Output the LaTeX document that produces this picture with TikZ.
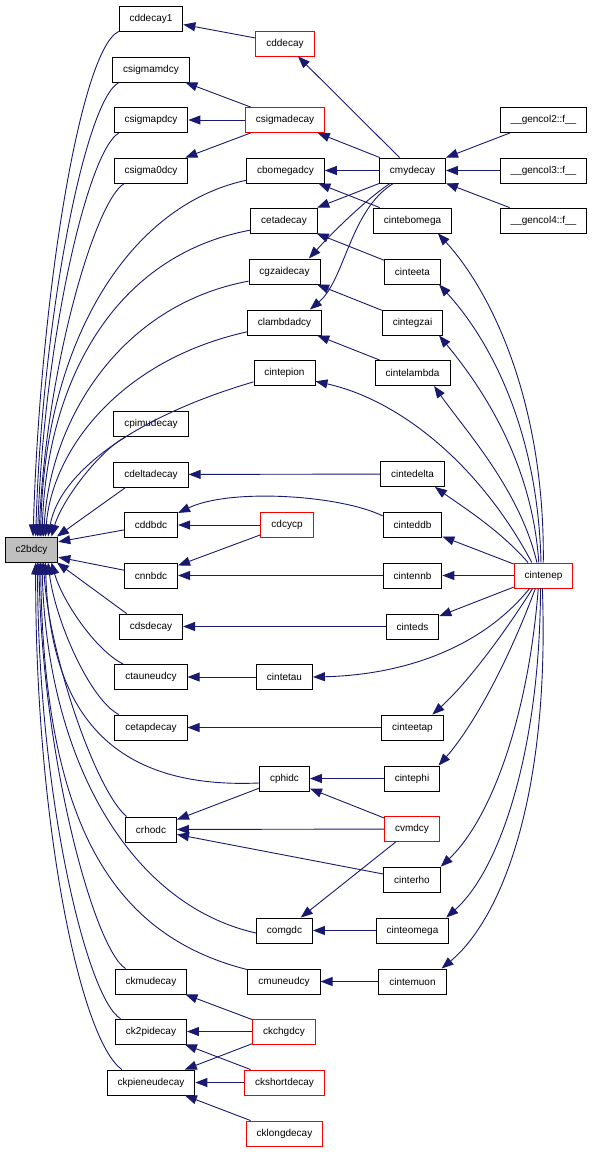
\documentclass[tikz,border=0pt]{standalone}
\usepackage{fontspec}
\setmainfont{Liberation Sans}
\usetikzlibrary{arrows.meta}
\definecolor{edgeblue}{RGB}{25,25,112}
\definecolor{rootgray}{RGB}{191,191,191}
\begin{document}
\begin{tikzpicture}[x=1pt,y=-1pt,
 box/.style={draw=black, line width=0.9pt, minimum height=25pt, inner xsep=10.5pt, inner ysep=0pt, font=\fontsize{10}{12}\selectfont, fill=white},
 redbox/.style={box, draw=red},
 rootbox/.style={box, fill=rootgray},
 e/.style={draw=edgeblue, line width=0.9pt, -{Triangle[length=12pt,width=9pt]}}]
\useasboundingbox (0,0) rectangle (593,1152);
% root
\node[rootbox] (c2bdcy) at (31.5,549.5) {c2bdcy};
% column 2
\node[box] (cddecay1) at (151,18.5) {cddecay1};
\node[box] (csigmamdcy) at (151,69.5) {csigmamdcy};
\node[box] (csigmapdcy) at (151,120) {csigmapdcy};
\node[box] (csigma0dcy) at (151,170.5) {csigma0dcy};
\node[box] (cpimudecay) at (151,424) {cpimudecay};
\node[box] (cdeltadecay) at (151,474.5) {cdeltadecay};
\node[box] (cddbdc) at (151,525) {cddbdc};
\node[box] (cnnbdc) at (151,575.5) {cnnbdc};
\node[box] (cdsdecay) at (151,626.5) {cdsdecay};
\node[box] (ctauneudcy) at (151,677) {ctauneudcy};
\node[box] (cetapdecay) at (151,727.5) {cetapdecay};
\node[box] (crhodc) at (151,829.5) {crhodc};
\node[box] (ckmudecay) at (151,981.5) {ckmudecay};
\node[box] (ck2pidecay) at (151,1031.5) {ck2pidecay};
\node[box] (ckpieneudecay) at (151,1082.5) {ckpieneudecay};
% column 3
\node[redbox] (cddecay) at (285,43.5) {cddecay};
\node[redbox] (csigmadecay) at (285,120) {csigmadecay};
\node[box] (cbomegadcy) at (285.5,170.5) {cbomegadcy};
\node[box] (cetadecay) at (284,220.5) {cetadecay};
\node[box] (cgzaidecay) at (284.5,271.5) {cgzaidecay};
\node[box] (clambdadcy) at (284.5,322.5) {clambdadcy};
\node[box] (cintepion) at (284.5,373) {cintepion};
\node[redbox] (cdcycp) at (287,525) {cdcycp};
\node[box] (cintetau) at (284.5,677) {cintetau};
\node[box] (cphidc) at (284.5,778.5) {cphidc};
\node[box] (comgdc) at (284.5,930.5) {comgdc};
\node[box] (cmuneudcy) at (284,981.5) {cmuneudcy};
\node[redbox] (ckchgdcy) at (284,1031.5) {ckchgdcy};
\node[redbox] (ckshortdecay) at (284.5,1082.5) {ckshortdecay};
\node[redbox] (cklongdecay) at (284.5,1133.5) {cklongdecay};
% column 4
\node[box] (cmydecay) at (412.5,170.5) {cmydecay};
\node[box] (cintebomega) at (412.5,220.5) {cintebomega};
\node[box] (cinteeta) at (412.5,271.5) {cinteeta};
\node[box] (cintegzai) at (412.5,322.5) {cintegzai};
\node[box] (cintelambda) at (412.5,373) {cintelambda};
\node[box] (cintedelta) at (412.5,474) {cintedelta};
\node[box] (cinteddb) at (412.5,525) {cinteddb};
\node[box] (cintennb) at (412.5,575.5) {cintennb};
\node[box] (cinteds) at (412.5,626.5) {cinteds};
\node[box] (cinteetap) at (412.5,727.5) {cinteetap};
\node[box] (cintephi) at (412,778.5) {cintephi};
\node[redbox] (cvmdcy) at (412,829) {cvmdcy};
\node[box] (cinterho) at (412,879.5) {cinterho};
\node[box] (cinteomega) at (412.5,930.5) {cinteomega};
\node[box] (cintemuon) at (412.5,981.5) {cintemuon};
% column 5
\node[box] (gencol2) at (543.5,120) {\_\_gencol2::f\_\_};
\node[box] (gencol3) at (543.5,170.5) {\_\_gencol3::f\_\_};
\node[box] (gencol4) at (543.5,220.5) {\_\_gencol4::f\_\_};
\node[redbox] (cintenep) at (543.5,575.5) {cintenep};

% fan into c2bdcy
\draw[e] (cddecay1.south west) .. controls (80,50) and (40,300) .. (c2bdcy.83);
\draw[e] (csigmamdcy.202) .. controls (85,100) and (42,320) .. (c2bdcy.72);
\draw[e] (csigmapdcy.202) .. controls (88,150) and (44,340) .. (c2bdcy.65);
\draw[e] (csigma0dcy.206) .. controls (95,200) and (46,370) .. (c2bdcy.60);
\draw[e] (cbomegadcy.194) .. controls (130,205) and (45,340) .. (c2bdcy.55);
\draw[e] (cetadecay.196) .. controls (115,255) and (47,380) .. (c2bdcy.51);
\draw[e] (cgzaidecay.195) .. controls (120,305) and (50,420) .. (c2bdcy.47);
\draw[e] (clambdadcy.194) .. controls (120,360) and (52,450) .. (c2bdcy.43);
\draw[e] (cintepion.196) .. controls (140,415) and (60,470) .. (c2bdcy.38);
\draw[e] (cpimudecay.207) .. controls (100,450) and (62,500) .. (c2bdcy.33);
\draw[e] (cdeltadecay.207) -- (c2bdcy.27);
\draw[e] (cddbdc) -- (c2bdcy.16);
\draw[e] (cnnbdc) -- (c2bdcy.-16);
\draw[e] (cdsdecay.152) -- (c2bdcy.-27);
\draw[e] (ctauneudcy.155) .. controls (95,650) and (62,600) .. (c2bdcy.-33);
\draw[e] (cetapdecay.158) .. controls (90,700) and (55,620) .. (c2bdcy.-38);
\draw[e] (cphidc.190) .. controls (100,790) and (50,700) .. (c2bdcy.-43);
\draw[e] (crhodc.152) .. controls (95,790) and (48,650) .. (c2bdcy.-47);
\draw[e] (comgdc.185) .. controls (130,905) and (47,760) .. (c2bdcy.-51);
\draw[e] (cmuneudcy.162) .. controls (110,935) and (44,820) .. (c2bdcy.-55);
\draw[e] (ckmudecay.153) .. controls (95,950) and (42,760) .. (c2bdcy.-60);
\draw[e] (ck2pidecay.157) .. controls (88,1000) and (38,800) .. (c2bdcy.-65);
\draw[e] (ckpieneudecay.156) .. controls (80,1040) and (35,820) .. (c2bdcy.-72);

% upper block
\draw[e] (cddecay) -- (cddecay1);
\draw[e] (csigmadecay) -- (csigmamdcy);
\draw[e] (csigmadecay) -- (csigmapdcy);
\draw[e] (csigmadecay) -- (csigma0dcy);
\draw[e] (cmydecay) -- (cddecay);
\draw[e] (cmydecay) -- (csigmadecay);
\draw[e] (cmydecay) -- (cbomegadcy);
\draw[e] (cmydecay) -- (cetadecay);
\draw[e] (cmydecay.210) .. controls (365,200) and (330,235) .. (cgzaidecay.28);
\draw[e] (cmydecay.214) .. controls (350,210) and (345,280) .. (clambdadcy.27);
\draw[e] (gencol2) -- (cmydecay);
\draw[e] (gencol3) -- (cmydecay);
\draw[e] (gencol4) -- (cmydecay);
\draw[e] (cintebomega) -- (cbomegadcy);
\draw[e] (cinteeta) -- (cetadecay);
\draw[e] (cintegzai) -- (cgzaidecay);
\draw[e] (cintelambda) -- (clambdadcy);

% middle block
\draw[e] (cintedelta) -- (cdeltadecay);
\draw[e] (cinteddb.163) .. controls (340,495) and (230,488) .. (cddbdc.24);
\draw[e] (cdcycp) -- (cddbdc);
\draw[e] (cdcycp) -- (cnnbdc);
\draw[e] (cintennb) -- (cnnbdc);
\draw[e] (cinteds) -- (cdsdecay);
\draw[e] (cintetau) -- (ctauneudcy);
\draw[e] (cinteetap) -- (cetapdecay);
\draw[e] (cintephi) -- (cphidc);
\draw[e] (cvmdcy) -- (cphidc);
\draw[e] (cphidc) -- (crhodc);
\draw[e] (cvmdcy) -- (crhodc);
\draw[e] (cinterho) -- (crhodc);
\draw[e] (cvmdcy) -- (comgdc);
\draw[e] (cinteomega) -- (comgdc);
\draw[e] (cintemuon) -- (cmuneudcy);

% lower block
\draw[e] (ckchgdcy) -- (ckmudecay);
\draw[e] (ckchgdcy) -- (ck2pidecay);
\draw[e] (ckchgdcy) -- (ckpieneudecay);
\draw[e] (ckshortdecay) -- (ck2pidecay);
\draw[e] (ckshortdecay) -- (ckpieneudecay);
\draw[e] (cklongdecay) -- (ckpieneudecay);

% cintenep fan
\draw[e] (cintenep.91) .. controls (545,400) and (490,290) .. (cintebomega.-27);
\draw[e] (cintenep.101) .. controls (538,430) and (490,340) .. (cinteeta.-26);
\draw[e] (cintenep.110) .. controls (532,460) and (480,385) .. (cintegzai.-26);
\draw[e] (cintenep.117) .. controls (520,490) and (465,430) .. (cintelambda.-31);
\draw[e] (cintenep.132) .. controls (480,465) and (400,400) .. (cintepion.-15);
\draw[e] (cintenep.140) .. controls (500,530) and (460,505) .. (cintedelta.-30);
\draw[e] (cintenep) -- (cinteddb);
\draw[e] (cintenep) -- (cintennb);
\draw[e] (cintenep) -- (cinteds);
\draw[e] (cintenep.223) .. controls (480,650) and (400,675) .. (cintetau.east);
\draw[e] (cintenep.230) .. controls (500,640) and (465,685) .. (cinteetap.33);
\draw[e] (cintenep.238) .. controls (505,670) and (470,730) .. (cintephi.26);
\draw[e] (cintenep.248) .. controls (528,720) and (490,820) .. (cinterho.24);
\draw[e] (cintenep.257) .. controls (540,750) and (500,870) .. (cinteomega.21);
\draw[e] (cintenep.265) .. controls (550,800) and (500,920) .. (cintemuon.24);
\end{tikzpicture}
\end{document}
